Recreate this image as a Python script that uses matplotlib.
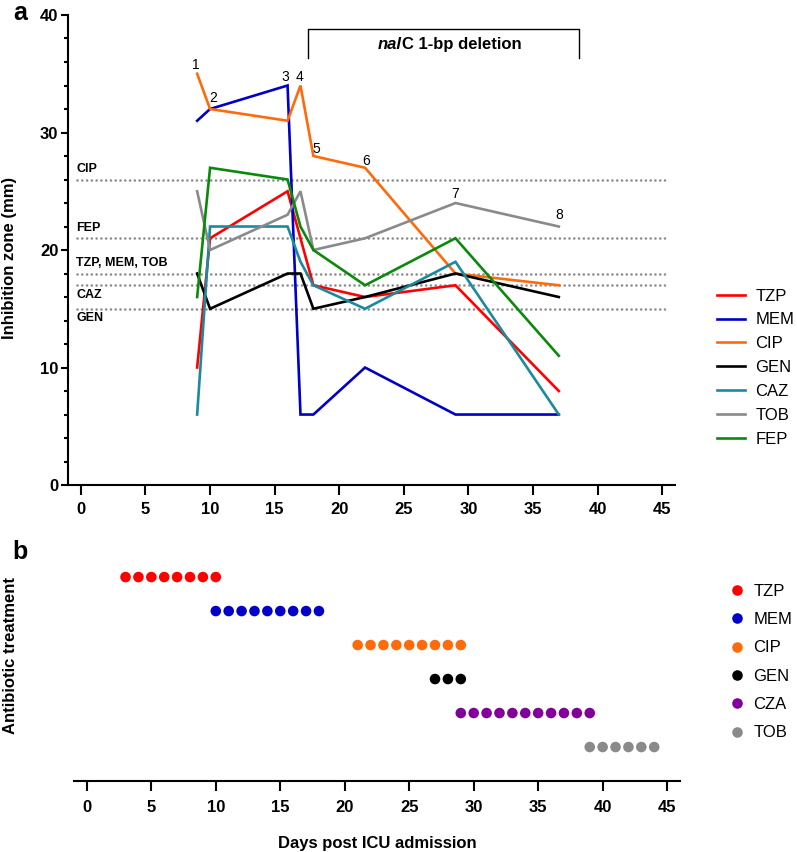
import numpy as np
import matplotlib
matplotlib.use('Agg')
import matplotlib.pyplot as plt
from matplotlib.lines import Line2D

matplotlib.rcParams['font.family'] = ['Liberation Sans', 'DejaVu Sans']
matplotlib.rcParams['font.size'] = 12

# ---- 数据: 抑菌圈 (mm) ----
days = [9, 10, 16, 17, 18, 22, 29, 37]
sample_labels = ['1', '2', '3', '4', '5', '6', '7', '8']
zone = {
    'TZP': [10, 21, 25, 21, 17, 16, 17, 8],
    'MEM': [31, 32, 34, 6, 6, 10, 6, 6],
    'CIP': [35, 32, 31, 34, 28, 27, 18, 17],
    'GEN': [18, 15, 18, 18, 15, 16, 18, 16],
    'CAZ': [6, 22, 22, 19, 17, 15, 19, 6],
    'TOB': [25, 20, 23, 25, 20, 21, 24, 22],
    'FEP': [16, 27, 26, 22, 20, 17, 21, 11],
}
line_colors = {
    'TZP': '#ff0000', 'MEM': '#0000c8', 'CIP': '#ff6a0a', 'GEN': '#000000',
    'CAZ': '#1b8a9e', 'TOB': '#8a8a8a', 'FEP': '#0a8a0a',
}
# 折点阈值
breakpoint_names = ['CIP', 'FEP', 'TZP, MEM, TOB', 'CAZ', 'GEN']
breakpoint_vals = [26, 21, 18, 17, 15]
breakpoint_above = [True, True, True, False, False]

# 样本编号标注在哪条曲线上
sample_series = ['CIP', 'CIP', 'MEM', 'CIP', 'CIP', 'CIP', 'TOB', 'TOB']
sample_offsets = [(-1, 1), (2, 3), (-2, 1), (-1, 1), (2, 0), (1, 0), (0, 1.5), (0, 3)]

deletion_start = 17.6
deletion_end = 38.6

# ---- 数据: 抗生素治疗 ----
drugs = ['TZP', 'MEM', 'CIP', 'GEN', 'CZA', 'TOB']
drug_start = [3, 10, 21, 27, 29, 39]
drug_end = [10, 18, 29, 29, 39, 44]
drug_colors = ['#ff0000', '#0000c8', '#ff6a0a', '#000000', '#800099', '#8a8a8a']

fig = plt.figure(figsize=(7.97, 8.52), dpi=100)
ax = fig.add_axes([0.0853, 0.4307, 0.7617, 0.5517])
ax2 = fig.add_axes([0.0928, 0.0833, 0.7604, 0.2793])

# ---------- 图 a ----------
for val in breakpoint_vals:
    ax.axhline(val, xmin=0.015, xmax=0.988, color='#8c8c8c', lw=1.9,
               linestyle=(0, (0.01, 1.8)), dash_capstyle='round', zorder=1)
for name, val, above in zip(breakpoint_names, breakpoint_vals, breakpoint_above):
    if above:
        ax.annotate(name, (-0.35, val), xytext=(0, 3), textcoords='offset points',
                    ha='left', va='bottom', fontsize=9, fontweight='bold')
    else:
        ax.annotate(name, (-0.35, val), xytext=(0, -2.5), textcoords='offset points',
                    ha='left', va='top', fontsize=9, fontweight='bold')

for name, vals in zone.items():
    ax.plot(days, vals, color=line_colors[name], lw=1.9, label=name, zorder=3,
            solid_joinstyle='miter')

for lab, ser, off, d_idx in zip(sample_labels, sample_series, sample_offsets, range(len(days))):
    ax.annotate(lab, (days[d_idx], zone[ser][d_idx]), xytext=off, textcoords='offset points',
                ha='center', va='bottom', fontsize=10)

# nalC 缺失区间
ax.plot([deletion_start, deletion_start, deletion_end, deletion_end],
        [36.3, 38.8, 38.8, 36.3], color='black', lw=1.0, clip_on=False)
ax.text(24.86, 37.45, 'nal', ha='right', va='center', fontsize=12,
        fontweight='bold', fontstyle='italic')
ax.text(24.86, 37.45, 'C 1-bp deletion', ha='left', va='center', fontsize=12,
        fontweight='bold')

ax.set_xlim(-1, 46)
ax.set_ylim(0, 40)
ax.set_xticks(np.arange(0, 46, 5))
ax.set_yticks(np.arange(0, 41, 10))
ax.set_yticks(np.arange(0, 41, 2), minor=True)
ax.spines['top'].set_visible(False)
ax.spines['right'].set_visible(False)
ax.spines['left'].set_linewidth(1.5)
ax.spines['bottom'].set_linewidth(1.5)
ax.tick_params(axis='x', direction='out', length=7, width=1.5, pad=5.5)
ax.tick_params(axis='y', which='major', direction='out', length=5, width=1.5, pad=2)
ax.tick_params(axis='y', which='minor', direction='out', length=3, width=1.5)
for t in ax.get_xticklabels() + ax.get_yticklabels():
    t.set_fontweight('bold')
ax.set_ylabel('Inhibition zone (mm)', fontweight='bold')
ax.yaxis.set_label_coords(-0.084, 0.483)

ax.legend(loc='center left', bbox_to_anchor=(1.069, 0.25), frameon=False,
          handlelength=1.7, handletextpad=0.6, labelspacing=0.53,
          borderpad=0, borderaxespad=0)

# ---------- 图 b ----------
for i, (drug, s, e, c) in enumerate(zip(drugs, drug_start, drug_end, drug_colors)):
    dd = np.arange(s, e + 1)
    ax2.scatter(dd, np.full(len(dd), len(drugs) - i), s=58, color=c, edgecolors='none',
                zorder=3)

ax2.set_xlim(-1, 46)
ax2.set_ylim(0, 7)
ax2.set_xticks(np.arange(0, 46, 5))
ax2.set_yticks([])
for sp in ['top', 'right', 'left']:
    ax2.spines[sp].set_visible(False)
ax2.spines['bottom'].set_linewidth(1.5)
ax2.tick_params(axis='x', direction='out', length=7, width=1.5, pad=6.5)
for t in ax2.get_xticklabels():
    t.set_fontweight('bold')
ax2.set_xlabel('Days post ICU admission', fontweight='bold', labelpad=15)
ax2.set_ylabel('Antibiotic treatment', fontweight='bold')
ax2.yaxis.set_label_coords(-0.092, 0.526)

handles2 = [Line2D([], [], marker='o', linestyle='none', markersize=7.6, color=c,
                   markeredgewidth=0) for c in drug_colors]
ax2.legend(handles2, drugs, loc='center left', bbox_to_anchor=(1.080, 0.5), frameon=False,
           handlelength=1.0, handletextpad=0.5, labelspacing=0.8,
           borderpad=0, borderaxespad=0)

fig.text(0.016, 0.985, 'a', fontsize=18, fontweight='bold', ha='left', va='center')
fig.text(0.016, 0.352, 'b', fontsize=18, fontweight='bold', ha='left', va='center')

fig.savefig('out.png', dpi=100)
